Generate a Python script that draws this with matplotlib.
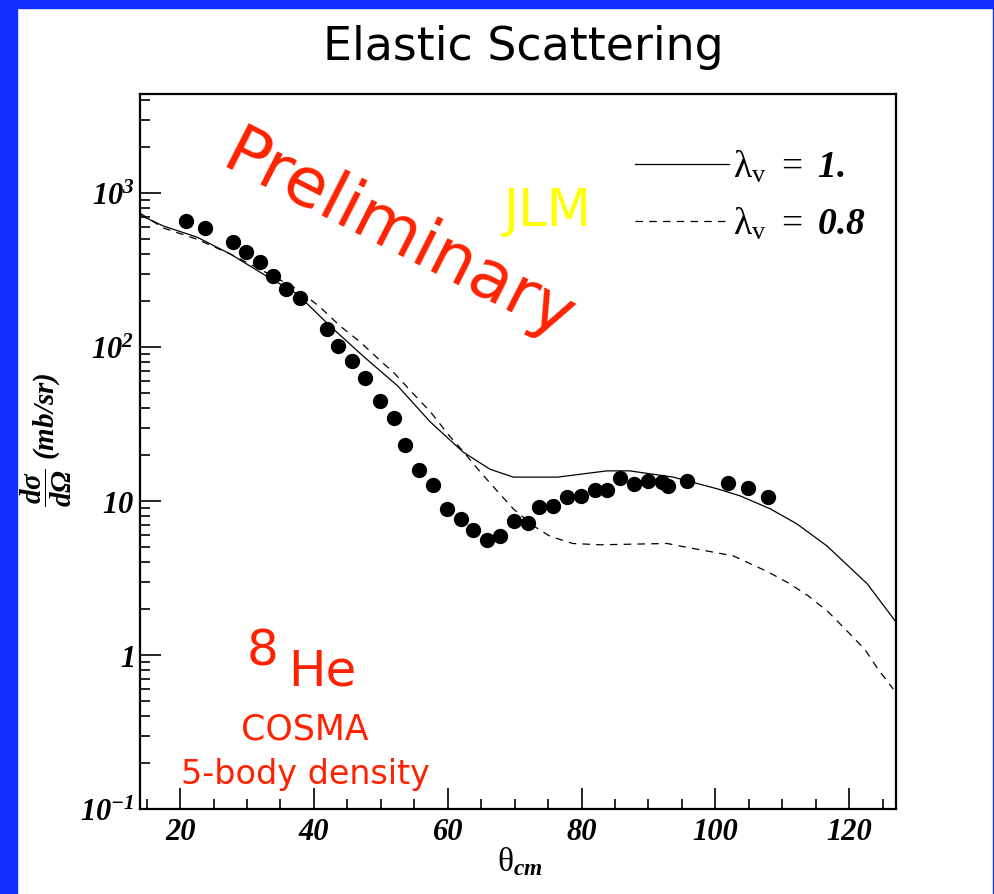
import matplotlib
matplotlib.use("Agg")
import matplotlib.pyplot as plt
from matplotlib.patches import Rectangle
from matplotlib.ticker import MultipleLocator, LogLocator, NullFormatter

# フォント設定（ROOT風の太字イタリック）
plt.rcParams['mathtext.fontset'] = 'custom'
plt.rcParams['mathtext.rm'] = 'Liberation Serif:italic:bold'
plt.rcParams['mathtext.it'] = 'Liberation Serif:italic:bold'
plt.rcParams['mathtext.bf'] = 'Liberation Serif:italic:bold'
plt.rcParams['mathtext.sf'] = 'Liberation Serif'

# 1. データ
theta_exp = [20.9, 23.7, 27.9, 29.9, 32.0, 33.9, 35.8, 37.9, 41.9, 43.6,
             45.7, 47.7, 49.8, 51.9, 53.6, 55.7, 57.8, 59.9, 62.0, 63.8,
             65.9, 67.8, 69.9, 72.0, 73.7, 75.8, 77.8, 79.9, 82.0, 83.8,
             85.8, 87.9, 90.0, 92.0, 92.9, 95.8, 101.9, 104.9, 107.9]
xs_exp = [658, 593, 481, 414, 356, 289, 238, 208, 131, 101,
          81, 63, 44.6, 34.6, 23.1, 15.9, 12.7, 8.9, 7.6, 6.5,
          5.6, 5.9, 7.4, 7.2, 9.1, 9.3, 10.6, 10.8, 11.8, 11.8,
          14.1, 12.9, 13.5, 13.3, 12.5, 13.5, 13.1, 12.1, 10.6]

theta_l1 = [14.0, 17.5, 22.5, 27.5, 32.4, 37.5, 42.4, 47.4, 52.5, 57.4,
            62.3, 66.3, 69.8, 76.4, 83.8, 87.2, 93.7, 100.3, 103.7, 108.2,
            112.2, 116.7, 122.7, 126.9]
xs_l1 = [720, 611, 518, 402, 298, 221, 137, 87, 56, 32.6,
         20.8, 16.1, 14.3, 14.3, 15.7, 15.7, 14.3, 12.0, 10.8, 8.9,
         7.1, 5.1, 2.9, 1.66]

theta_l08 = [14.0, 17.5, 22.5, 27.5, 32.4, 37.5, 40.9, 43.9, 46.9, 49.6,
             52.1, 54.8, 57.4, 60.1, 62.3, 64.5, 67.4, 69.8, 72.8, 75.3,
             78.7, 82.8, 92.8, 95.8, 99.2, 102.7, 107.9, 110.9, 113.9, 116.9,
             119.7, 122.4, 124.3, 126.6]
xs_l08 = [741, 593, 502, 402, 312, 238, 182, 137, 108, 84,
          67, 50, 38, 27, 21, 16.1, 11.6, 8.9, 6.9, 5.9,
          5.3, 5.2, 5.3, 5.0, 4.7, 4.4, 3.46, 2.94, 2.42, 1.90,
          1.43, 1.08, 0.81, 0.60]

x_ticks = [20, 40, 60, 80, 100, 120]
y_ticks = [0.1, 1, 10, 100, 1000]
y_ticklabels = [r'$10^{-1}$', r'$1$', r'$10$', r'$10^{2}$', r'$10^{3}$']

# 2. グラフの設定
W, H = 995, 895
fig = plt.figure(figsize=(W / 100, H / 100), dpi=100)
fig.patch.set_facecolor('white')

# 青い枠
blue = '#1030FF'
fig.patches.append(Rectangle((0, 0), 17 / W, 1, transform=fig.transFigure, color=blue, zorder=0))
fig.patches.append(Rectangle((0, 1 - 9 / H), 1, 9 / H, transform=fig.transFigure, color=blue, zorder=0))
fig.patches.append(Rectangle((1 - 2 / W, 0), 2 / W, 1, transform=fig.transFigure, color=blue, zorder=0))

ax = fig.add_axes([140 / W, 1 - 810 / H, 756 / W, 715 / H])
ax.set_yscale('log')

ax.plot(theta_l1, xs_l1, color='black', lw=0.9, label=r'$\mathsf{\lambda_v}\ \mathsf{=}\ 1.$')
ax.plot(theta_l08, xs_l08, color='black', lw=0.9, dashes=(6, 5), label=r'$\mathsf{\lambda_v}\ \mathsf{=}\ 0.8$')
ax.plot(theta_exp, xs_exp, 'o', color='black', ms=10, zorder=3)

ax.set_xlim(14, 127)
ax.set_ylim(0.1, 4400)

ax.set_xticks(x_ticks)
ax.set_xticklabels([str(t) for t in x_ticks])
ax.xaxis.set_minor_locator(MultipleLocator(5))
ax.set_yticks(y_ticks)
ax.set_yticklabels(y_ticklabels)
ax.yaxis.set_minor_locator(LogLocator(base=10, subs=range(2, 10)))
ax.yaxis.set_minor_formatter(NullFormatter())

tick_font = {'family': 'Liberation Serif', 'weight': 'bold', 'style': 'italic', 'size': 22}
for lab in ax.get_xticklabels() + ax.get_yticklabels():
    lab.set_fontproperties(tick_font)

ax.tick_params(which='both', direction='in', top=False, right=False, width=1.2)
ax.tick_params(which='major', length=15)
ax.tick_params(which='minor', length=7.5)
ax.tick_params(axis='y', pad=4)
ax.tick_params(axis='x', pad=6)
for s in ax.spines.values():
    s.set_linewidth(1.6)

# 凡例
leg = ax.legend(loc='upper right', bbox_to_anchor=(0.985, 0.95), frameon=False,
                fontsize=27, handlelength=2.5, handletextpad=0.1, labelspacing=0.55,
                borderpad=0)

# 3. タイトルとラベル
fig.text(523 / W, 1 - 48 / H, 'Elastic Scattering', ha='center', va='center',
         fontsize=33, family='DejaVu Sans')
fig.text(520 / W, 1 - 862 / H, r'$\mathsf{\theta}_{cm}$', ha='center', va='center', fontsize=24)
fig.text(46 / W, 1 - 440 / H, r'$\dfrac{d\sigma}{d\Omega}$ (mb/sr)', ha='center', va='center',
         rotation=90, fontsize=21, family='Liberation Serif', weight='bold', style='italic')

# 注釈テキスト
red = '#FF2200'
fig.text(398 / W, 1 - 237 / H, 'Preliminary', ha='center', va='center', rotation=-27,
         rotation_mode='anchor', color=red, fontsize=49, family='DejaVu Sans')
fig.text(548 / W, 1 - 212 / H, 'JLM', ha='center', va='center', color='#FFFF00', fontsize=37)
fig.text(263 / W, 1 - 652 / H, '8', ha='center', va='center', color=red, fontsize=36)
fig.text(322 / W, 1 - 672 / H, 'He', ha='center', va='center', color=red, fontsize=36)
fig.text(305 / W, 1 - 730 / H, 'COSMA', ha='center', va='center', color=red, fontsize=25)
fig.text(305 / W, 1 - 775 / H, '5-body density', ha='center', va='center', color=red, fontsize=24)

plt.savefig('out.png', dpi=100)
